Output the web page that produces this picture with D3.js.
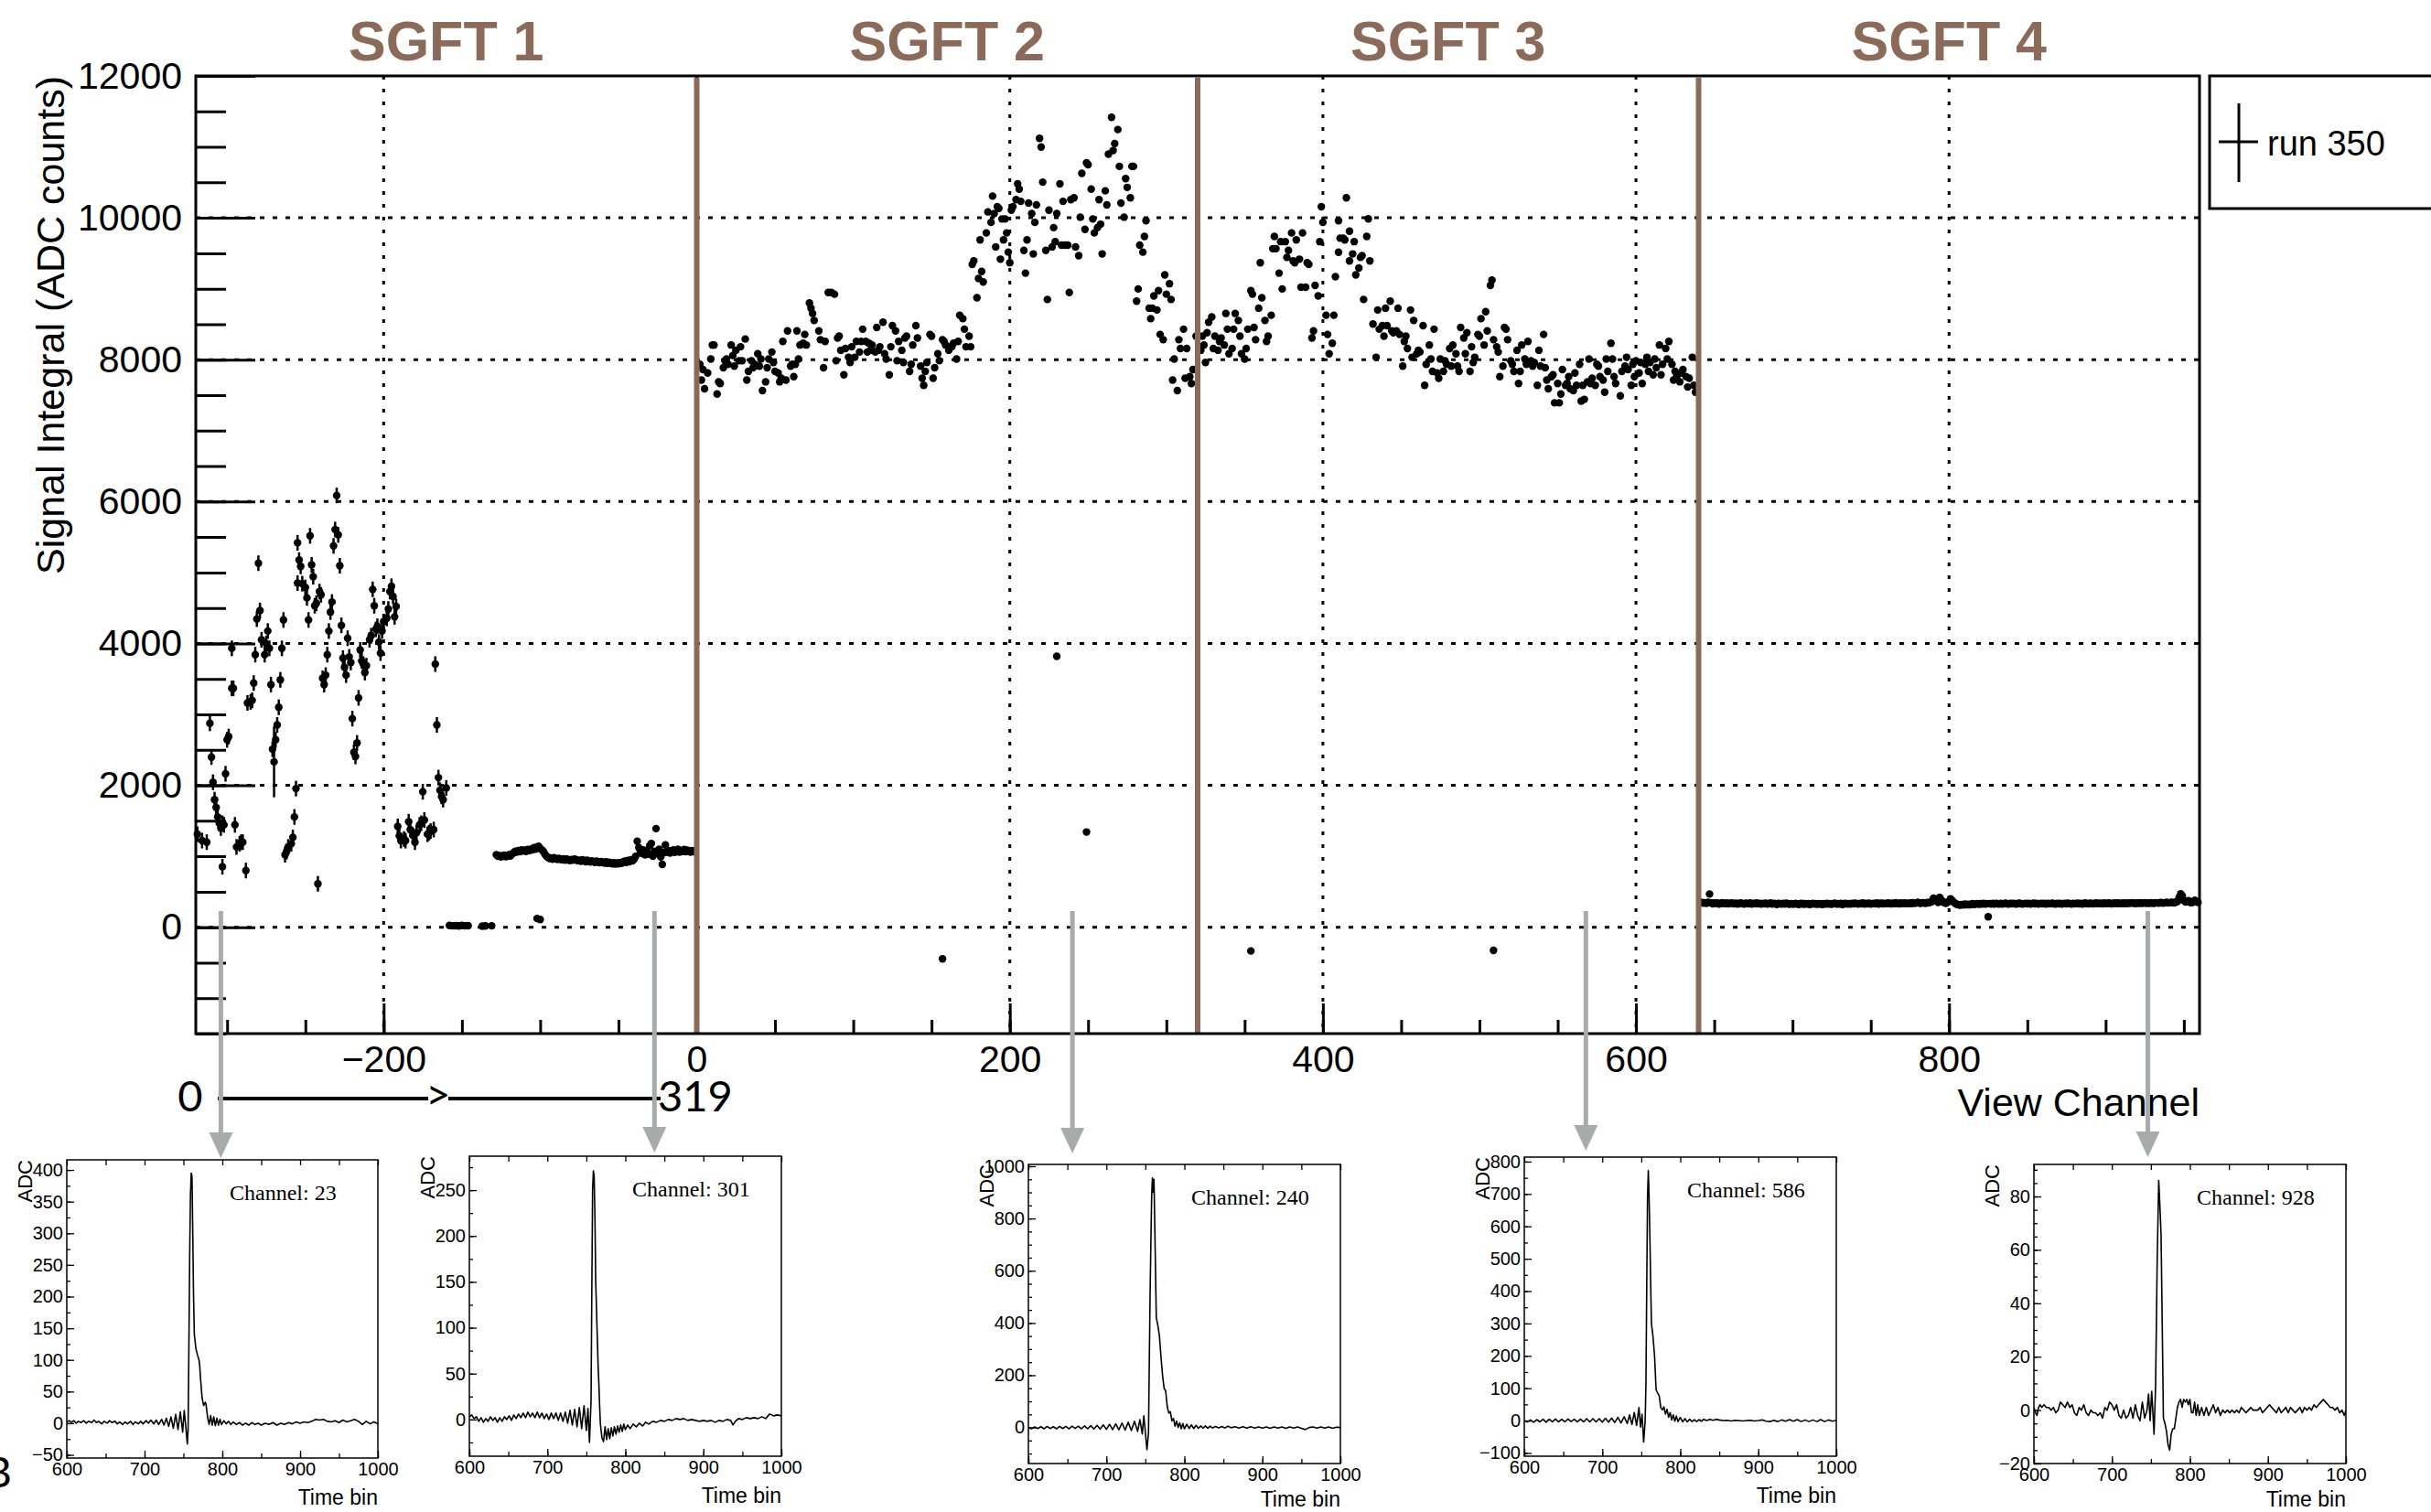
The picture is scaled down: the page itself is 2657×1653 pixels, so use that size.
<!DOCTYPE html>
<html>
<head>
<meta charset="utf-8">
<script src="https://cdn.jsdelivr.net/npm/d3@7"></script>
<style>
  body { margin: 0; background: #fff; }
  svg { display: block; }
</style>
</head>
<body>
<svg id="chart" width="2657" height="1653"></svg>
<script>
// ---------------- data ----------------
const moduleLabels = ["SGFT 1", "SGFT 2", "SGFT 3", "SGFT 4"];
const moduleBounds = [-320, 0, 320, 640, 960];
const xMajorTicks = [-200, 0, 200, 400, 600, 800];
const yMajorTicks = [0, 2000, 4000, 6000, 8000, 10000, 12000];
const legendLabel = "run 350";

// SGFT 1: scattered channels [view channel, integral, error]
const sgft1Scatter = [
  [-319,1310],[-316,1221],[-313,1199],[-311,2874],[-310,2398],[-309,2043],[-308,1798],[-307,1687],
  [-306,1554],[-305,1465],[-304,1398],[-303,1465],[-303,852],[-302,1443],[-301,2163],[-300,2642],
  [-299,2687],[-297,3931],[-297,3367],[-296,3367],[-295,1443],[-294,1132],[-292,1177],[-291,1199],
  [-290,1199],[-288,799],[-287,3162],[-285,3176],[-284,3198],[-283,3442],[-282,3842],[-281,4344],
  [-280,5131],[-279,4464],[-278,4051],[-276,3842],[-275,3998],[-274,4175],[-273,3931],[-272,3420],
  [-271,2509],[-270,2331,500],[-269,2642],[-268,2851],[-267,3100],[-266,3487],[-265,3931],[-264,4331],
  [-263,1021],[-262,1065],[-261,1132],[-259,1177],[-258,1265],[-257,1554],[-256,1954],[-255,5419],
  [-254,5175],[-253,5086],[-255,4851],[-252,4842],[-250,4789],[-249,4642],[-248,4331],[-247,5517],
  [-246,5108],[-245,4940],[-244,4531],[-243,4566],[-242,612],[-241,4731],[-240,4686],[-239,3509],
  [-238,3420],[-237,3553],[-236,3842],[-235,4175],[-234,4442],[-233,4584],[-232,5375],[-231,5606],
  [-230,6086],[-229,5530],[-228,5095],[-227,4255],[-226,3793],[-225,3664],[-224,3553],[-223,4073],
  [-222,3811],[-221,3731],[-220,2940],[-219,2465],[-218,2407],[-217,2598],[-216,3233],[-215,3909],
  [-214,3753],[-213,3709],[-212,3589],[-211,3687],[-209,4051],[-208,4109],[-207,4762],[-206,4531],
  [-205,4198],[-204,4242],[-203,4020],[-202,3864],[-201,4175],[-200,4309],[-198,4353],[-197,4486],
  [-196,4731],[-195,4806],[-194,4664],[-193,4375],[-192,4522],[-191,1421],[-190,1287],[-189,1221],
  [-187,1243],[-186,1221],[-184,1487],[-183,1376],[-181,1287],[-180,1199],[-179,1332],[-177,1443],
  [-176,1465],[-175,1909],[-174,1510],[-172,1310],[-171,1332],[-170,1354],[-168,1376],[-167,3709],
  [-166,2851],[-165,2109],[-164,1931],[-163,1843],[-162,1798],[-160,1963]
];
// SGFT 1: channels reading near zero and low outliers
const sgft1Low = [
  [-158,25],[-156,20],[-154,22],[-152,18],[-150,25],[-148,20],[-146,22],[-137,15],[-135,18],[-131,20],
  [-102,123],[-100,108]
];
// SGFT 1: contiguous channels -128 .. -1
const sgft1BandStart = -128;
const sgft1Band = [
  1020,1000,1010,990,1005,1015,995,1000,1020,1005,1030,
  1050,1070,1060,1080,1065,1090,1075,1085,1070,1095,1080,1100,1090,1120,1100,1130,1140,1110,1090,1070,
  1030,1000,985,970,975,960,980,965,955,970,960,950,965,945,960,950,940,955,945,960,
  950,935,945,930,950,940,925,945,930,920,935,925,915,930,920,910,925,915,905,920,
  900,915,905,895,910,890,905,895,910,
  900,920,930,915,940,925,950,935,960,1000,1210,
  1120,1060,1040,1090,1020,1080,1030,1150,1180,1000,1070,1390,1040,1100,990,885,1050,1160,1060,1080,
  1045,1070,1090,1055,1075,1100,1060,1080,1070,1095,1065,1085,1075,1060,1080,1070,1060
];

// SGFT 2: [view channel, integral]
const sgft2Points = [
  [2,7935],[3,7713],[4,7861],[5,7590],[7,7812],[9,8010],[10,8207],[11,8207],[13,7516],[14,7688],[15,7664],
  [17,7886],[18,7985],[19,8010],[20,7935],[22,8207],[23,8059],[24,7910],[25,8133],[27,7985],[28,8182],
  [29,7985],[31,8291],[32,7713],[33,7836],[35,7985],[36,7886],[37,7935],[39,8084],[40,7910],[41,8010],
  [42,7565],[44,7688],[45,7886],[46,8010],[48,8108],[49,7960],[50,7836],[52,7812],[53,7688],[54,7738],
  [55,8257],[57,7713],[58,8405],[60,7910],[61,7935],[62,7762],[63,7935],[64,8405],[65,8010],[66,8207],
  [68,8232],[69,8356],[70,8207],[72,8800],[73,8726],[74,8652],[75,8553],[78,8405],[79,8282],[81,7886],
  [82,8257],[84,8948],[86,8948],[88,8923],[89,7985],[90,8306],[91,8331],[92,8133],[94,7787],[95,8158],
  [97,8034],[98,7960],[99,8182],[101,8034],[102,8257],[104,8108],[105,8257],[106,8430],[108,8257],
  [109,8108],[110,8232],[111,8133],[112,8207],[114,8108],[115,8454],[116,8133],[117,8182],[119,8528],
  [120,8084],[121,8010],[123,7787],[124,8182],[125,8479],[127,8405],[128,7985],[129,8257],[131,8133],
  [132,7960],[133,8306],[134,8331],[136,7836],[137,7935],[138,8207],[140,8479],[141,8306],[143,7910],
  [144,7738],[145,7639],[146,7836],[147,7960],[149,8356],[150,8331],[151,7738],[152,7886],[154,8084],
  [155,7985],[157,8282],[158,8257],[159,8207],[161,8133],[162,8182],[163,8182],[164,8232],[166,8010],
  [167,8257],[168,8627],[170,8578],[171,8430],[172,8182],[174,8331],[175,8182],
  [176,9343],[177,9392],[179,8874],[180,9145],[181,9688],[182,9244],[183,9096],[185,9787],[186,10083],
  [188,9935],[189,10306],[190,10059],[191,9590],[192,10158],[193,10133],[194,9417],[195,9984],[196,9688],
  [197,9984],[198,9787],[199,9516],[200,9367],[201,10108],[202,10158],[204,10256],[205,10479],[206,10404],
  [207,10232],[209,9540],[210,9220],[211,9688],[212,10207],[214,10059],[215,9491],[216,9935],[217,10182],
  [219,11120],[220,10997],[221,10503],[223,9540],[224,8849],[225,10108],[227,9590],[228,9861],[229,9664],
  [230,10059],[232,10479],[233,9614],[234,10232],[235,9614],[237,9614],[238,8948],[239,10256],[241,10281],
  [242,9590],[244,9466],[245,10009],[246,10627],[248,9837],[249,10775],[250,10750],[252,10404],[253,9984],
  [254,9787],[256,9861],[257,10256],[258,9910],[259,9491],[261,10380],[262,10182],[263,10898],[265,11417],
  [266,10948],[267,11046],[269,11244],[270,10725],[271,10207],[273,10009],[274,10553],[275,10429],
  [277,10281],[278,10725],[279,10725],[281,8824],[282,8997],[283,9614],[285,9516],[286,9738],[287,9960],
  [289,8726],[290,8578],[291,8726],[292,8899],[294,8701],[295,8973],[296,8356],[298,8282],[299,9195],
  [300,8923],[302,9071],[303,8849],[304,7713],[305,8010],[307,7565],[308,8282],[309,8158],[311,8430],
  [312,7738],[313,8158],[315,7762],[316,7664],[317,7861],[319,8331],
  [157,-445],[230,3819],[249,1342]
];

// SGFT 3: [view channel, integral]
const sgft3Points = [
  [322,8133],[323,8331],[324,8207],[325,7960],[326,8380],[327,8528],[329,8602],[330,8158],[331,8331],
  [333,8133],[334,8257],[335,8306],[337,8207],[338,8652],[339,8430],[340,8084],[342,8158],[343,8430],
  [344,8652],[346,8553],[347,8331],[348,8084],[350,8010],[351,8158],[352,8430],[354,8973],[355,8923],
  [356,8454],[357,8282],[359,8726],[360,9367],[361,8874],[363,8553],[364,8257],[365,8331],[367,8627],
  [368,9565],[369,9738],[370,9565],[372,9220],[373,9664],[374,8997],[376,9664],[377,9442],[378,9540],
  [380,9787],[381,9392],[382,9367],[383,9688],[385,9417],[386,9022],[387,9787],[389,9022],[390,9367],
  [391,9343],[393,8306],[394,8405],[395,9047],[397,8899],[398,9664],[399,10157],[400,9935],[402,8627],
  [403,8356],[404,8084],[406,8232],[407,8627],[408,9170],[410,9960],[410,9515],[411,9713],[413,9713],
  [414,9688],[415,10281],[417,9812],[417,9392],[419,9491],[420,9664],[421,9195],[423,9293],[424,9442],
  [425,9466],[426,8849],[428,9738],[429,9985],[430,9392],[432,8503],[434,8034],[435,8701],[436,8430],
  [438,8479],[439,8331],[440,8726],[441,8479],[443,8824],[444,8405],[445,8380],[447,8405],[448,8726],
  [449,8356],[451,7910],[452,8257],[453,8331],[454,8158],[456,8701],[457,8034],[458,8553],[460,8084],
  [461,8133],[462,8108],[464,8479],[465,7639],[466,7935],[468,8207],[469,8010],[470,7836],[471,8430],
  [473,7812],[474,7738],[475,8010],[477,7836],[478,7985],[479,7935],[481,8158],[482,7910],[483,8207],
  [485,8084],[486,7910],[487,7836],[488,8454],[490,8306],[491,8084],[492,8380],[494,7836],[495,8182],
  [496,7960],[497,8034],[499,8356],[500,8331],[501,8578],[503,8207],[504,8677],[505,8405],[507,9047],
  [508,9121],[509,8282],[511,8182],[512,8108],[513,7762],[515,7910],[516,8454],[517,8430],[518,8282],
  [520,7985],[521,7935],[522,7836],[524,8133],[525,7664],[526,7836],[527,8207],[529,8010],[530,7935],
  [531,8257],[533,7985],[534,7910],[535,7960],[537,7639],[538,8133],[539,7910],[541,8356],[542,7886],
  [543,7713],[544,7590],[546,7762],[547,7787],[548,7392],[550,7664],[551,7392],[552,7516],[553,7861],
  [555,7639],[556,7664],[557,7762],[558,7590],[560,7565],[561,7812],[562,7639],[564,7935],[565,7417],
  [566,7639],[567,7441],[569,7688],[570,8010],[571,7664],[572,7738],[574,7639],[575,7935],[576,7910],
  [577,7762],[579,7713],[580,7541],[581,8010],[582,7836],[584,8232],[585,8010],[586,7762],[587,7664],
  [590,7491],[591,7836],[593,7910],[594,8034],[595,7861],[597,7639],[598,7935],[599,7762],[600,7985],
  [602,7812],[603,7960],[604,7664],[606,7935],[607,8034],[608,7836],[609,7960],[611,7787],[612,8010],
  [613,7886],[615,8207],[616,7787],[617,7935],[619,8158],[620,8010],[621,8257],[623,7935],[624,7713],
  [625,7836],[626,7762],[628,7688],[629,7812],[630,7861],[632,7762],[633,7615],[634,7738],[636,8034],
  [637,7639],[638,7541],
  [354,-335],[509,-326]
];

// SGFT 4: contiguous channels 641 .. 959
const sgft4Start = 641;
const sgft4Values = [
  352,348,340,345,338,350,468,345,330,342,336,340,328,335,345,338,332,340,330,336,
  342,335,330,338,328,334,340,332,326,338,335,330,342,328,336,332,340,330,334,328,
  336,330,338,326,332,340,328,334,330,322,336,330,326,334,328,338,330,324,332,328,
  326,334,328,322,330,336,324,330,326,332,320,328,334,326,330,324,332,328,322,330,
  328,334,326,330,324,332,338,326,330,328,334,322,330,336,328,332,326,334,330,338,
  332,326,336,330,340,328,334,330,338,326,332,336,330,342,328,334,338,330,336,332,
  340,334,330,338,332,344,336,330,340,334,338,342,332,336,340,334,346,338,342,350,
  340,338,345,342,336,348,344,352,360,410,395,372,350,420,385,360,345,338,352,366,
  400,378,352,335,322,318,312,320,315,326,318,322,316,324,330,320,326,332,324,330,
  326,334,328,330,147,332,326,334,328,336,330,326,334,328,332,338,330,326,334,330,
  336,330,328,334,338,330,326,332,336,330,334,328,332,338,330,334,326,332,336,330,
  334,328,336,330,332,338,330,326,334,330,336,328,332,334,330,338,332,328,336,330,
  332,338,330,334,328,336,340,332,330,338,334,330,336,342,332,338,334,330,340,336,
  334,340,336,330,338,342,334,340,336,332,340,338,334,342,336,340,346,338,334,342,
  338,344,336,340,346,338,342,336,344,340,338,346,342,340,348,344,340,346,350,342,
  346,352,348,344,356,362,420,470,440,380,355,360,372,350,345,358,380,365,350
];

// waveforms shown for single channels: [time bin, ADC]
const wave23 = [
  [600,2],[603,4],[606,1],[609,4],[612,0],[615,3],[618,1],[622,4],[625,0],[628,3],[632,1],[635,5],[638,1],
  [641,3],[645,-1],[648,3],[652,0],[655,4],[658,1],[662,3],[665,-1],[668,2],[672,-2],[675,2],[678,-1],
  [682,3],[685,-2],[688,2],[692,-1],[695,3],[698,-1],[702,4],[705,0],[708,5],[712,-1],[715,5],[718,-2],
  [722,6],[725,-3],[728,8],[731,-5],[734,10],[737,-8],[740,14],[743,-10],[746,18],[749,-14],[751,20],
  [753,-5],[755,-33],[756,-10],[757,120],[758,260],[759,360],[760,395],[761,390],[762,300],[763,200],
  [764,140],[766,118],[768,108],[770,100],[771,90],[772,70],[774,40],[776,28],[778,33],[779,30],[781,10],
  [783,-2],[785,12],[787,-3],[789,10],[791,-4],[793,8],[795,-3],[797,6],[799,-2],[802,4],[805,-1],[808,3],
  [811,-2],[814,2],[818,-2],[822,1],[826,-3],[830,0],[834,-3],[838,1],[842,-2],[846,0],[850,-3],[855,0],
  [860,-2],[865,1],[870,-3],[875,0],[880,-2],[885,1],[890,-1],[895,2],[900,0],[905,2],[910,1],[915,3],
  [920,6],[925,5],[930,6],[935,3],[940,2],[945,4],[950,1],[955,5],[960,2],[965,4],[970,6],[975,3],
  [980,-2],[985,3],[990,-1],[995,2],[1000,-1]
];
const wave301 = [
  [600,3],[603,5],[606,1],[609,3],[612,-2],[615,2],[618,-3],[621,1],[624,-2],[627,3],[630,-1],[633,2],
  [636,-3],[639,2],[642,-2],[645,3],[648,0],[651,4],[654,-1],[657,5],[660,1],[663,6],[666,2],[669,7],
  [672,2],[675,8],[678,3],[681,7],[684,2],[687,8],[690,2],[693,7],[696,1],[699,6],[702,0],[705,7],[708,1],
  [711,7],[714,-1],[717,7],[720,-2],[723,8],[726,-4],[729,10],[732,-6],[735,11],[738,-8],[741,13],
  [744,-10],[747,15],[750,-12],[752,12],[754,-25],[756,20],[757,140],[758,250],[759,271],[760,265],
  [761,220],[762,150],[764,90],[765,60],[766,40],[767,15],[768,-5],[770,-20],[772,-24],[774,-8],[776,-22],
  [778,-10],[780,-21],[782,-9],[784,-18],[786,-8],[788,-16],[790,-7],[792,-14],[794,-6],[796,-13],
  [798,-5],[800,-11],[803,-6],[806,-10],[810,-5],[814,-8],[818,-4],[822,-7],[826,-3],[830,-5],[835,-2],
  [840,-3],[845,-1],[850,-2],[855,0],[860,-1],[865,1],[870,0],[875,1],[880,-1],[885,0],[890,-1],
  [895,-2],[900,-1],[905,-2],[910,-1],[915,-3],[920,-1],[925,-2],[930,0],[935,-1],[938,-6],[941,-2],
  [945,1],[950,0],[955,2],[960,1],[965,2],[970,1],[975,3],[980,1],[985,6],[990,4],[995,5],[1000,4]
];
const wave240 = [
  [600,0],[604,-5],[608,2],[612,-4],[616,3],[620,-5],[624,4],[628,-4],[632,3],[636,-5],[640,4],[644,-4],
  [648,4],[652,-5],[656,5],[660,-4],[664,5],[668,-5],[672,6],[676,-5],[680,7],[684,-6],[688,8],[692,-6],
  [696,10],[700,-7],[704,12],[708,-8],[712,14],[716,-9],[720,17],[724,-10],[728,20],[732,-12],[736,24],
  [740,-15],[743,30],[746,-25],[748,45],[750,-20],[752,-85],[754,-20],[755,250],[756,500],[757,700],
  [758,880],[759,955],[760,900],[761,950],[762,780],[763,600],[764,420],[766,390],[768,350],[770,270],
  [772,200],[774,150],[776,140],[778,80],[780,55],[782,60],[784,25],[786,35],[788,5],[790,25],[792,0],
  [794,18],[796,-5],[798,15],[800,-5],[803,12],[806,-4],[809,10],[812,-4],[815,8],[818,-3],[821,6],
  [824,-3],[827,6],[830,-3],[833,5],[836,-2],[840,4],[844,-2],[848,4],[852,-2],[856,5],[860,-1],[865,3],
  [870,-2],[875,3],[880,-2],[885,3],[890,-2],[895,2],[900,-2],[905,2],[910,-3],[915,2],[920,-2],[925,2],
  [930,-3],[935,2],[940,-2],[945,2],[950,-3],[955,-8],[960,0],[965,2],[970,-2],[975,2],[980,-2],[985,2],
  [990,-3],[995,1],[1000,0]
];
const wave586 = [
  [600,0],[604,-4],[608,2],[612,-5],[616,3],[620,-4],[624,4],[628,-5],[632,4],[636,-4],[640,5],[644,-4],
  [648,4],[652,-4],[656,5],[660,-3],[664,4],[668,-4],[672,5],[676,-4],[680,6],[684,-4],[688,6],[692,-4],
  [696,6],[700,-5],[704,7],[708,-5],[712,8],[716,-6],[720,10],[724,-7],[728,12],[732,-9],[735,18],
  [738,-12],[741,25],[744,-15],[747,40],[749,-20],[751,20],[753,-66],[755,0],[756,120],[757,420],
  [758,690],[759,772],[760,690],[761,570],[762,430],[763,300],[765,260],[767,200],[769,95],[771,85],
  [773,76],[775,40],[777,33],[779,42],[781,20],[783,35],[785,10],[787,25],[789,2],[791,18],[793,-2],
  [795,14],[797,-3],[800,10],[803,-4],[806,6],[809,-4],[812,4],[815,-3],[818,3],[821,-3],[824,3],[827,-2],
  [830,4],[834,0],[838,4],[842,1],[846,4],[850,2],[855,0],[860,1],[865,-1],[870,1],[875,0],[880,-1],
  [885,0],[890,1],[895,-1],[900,0],[905,2],[910,-2],[915,-3],[920,1],[925,-3],[930,2],[935,-2],[940,3],
  [945,-2],[950,3],[955,-3],[960,2],[965,-3],[970,2],[975,-3],[980,3],[985,-3],[990,2],[995,-2],[1000,1]
];
const wave928 = [
  [600,1],[602,-1],[604,-2],[606,1],[608,2],[610,1],[613,2],[616,1],[619,1],[622,0],[625,1],[628,-1],
  [631,0],[634,3],[637,2],[640,1],[643,3],[646,1],[649,2],[652,-1],[655,-2],[658,1],[661,0],[664,2],
  [667,-1],[670,-2],[673,0],[676,-1],[679,-1],[682,-2],[685,-1],[688,-3],[691,1],[694,0],[697,3],[700,2],
  [703,0],[706,2],[709,-2],[712,-3],[715,0],[718,-3],[721,-2],[724,1],[727,-3],[730,2],[733,-2],[736,-4],
  [739,3],[742,-3],[745,0],[747,6],[749,-4],[751,7],[752,2],[754,-9],[756,9],[758,55],[760,86],[761,80],
  [763,66],[765,21],[766,-3],[768,-5],[770,-8],[772,-13],[774,-15],[776,-9],[778,-7],[780,-7],[782,-3],
  [784,1],[786,3],[788,4],[790,1],[792,4],[794,3],[796,4],[798,2],[800,4],[802,-1],[804,-1],[806,3],
  [808,-2],[810,2],[812,-2],[815,1],[818,-2],[821,1],[824,-2],[827,0],[830,2],[833,-1],[836,1],[839,-2],
  [842,0],[845,-1],[848,0],[851,-1],[854,0],[857,-1],[860,0],[863,-1],[866,1],[869,0],[872,-1],[875,0],
  [878,1],[881,0],[884,0],[887,0],[890,1],[893,-1],[896,0],[899,1],[902,2],[905,1],[908,0],[911,-1],
  [914,1],[917,-1],[920,0],[923,1],[926,-1],[929,1],[932,0],[935,-1],[938,0],[941,1],[944,-1],[947,1],
  [950,0],[953,1],[956,0],[959,2],[962,1],[965,2],[968,3],[971,4],[974,3],[977,2],[980,1],[983,1],
  [986,0],[989,1],[992,-1],[995,0],[998,-2],[1000,0]
];

// channels picked out with arrows (view channel)
const arrowChannels = [-304, -27, 240, 568, 927];

// ---------------- layout ----------------
const SANS = "'Liberation Sans', Arial, Helvetica, sans-serif";
const SERIF = "'Liberation Serif', 'Times New Roman', serif";
const BROWN = "#8b6a5a";
const GREY = "#a9abaa";
const frame = { left: 214, right: 2404, top: 83, bottom: 1130 };

const svg = d3.select("#chart");
svg.append("rect").attr("width", 2657).attr("height", 1653).attr("fill", "#fff");

const x = d3.scaleLinear().domain([moduleBounds[0], moduleBounds[4]]).range([frame.left, frame.right]);
const y = d3.scaleLinear().domain([-1500, 12000]).range([frame.bottom, frame.top]);

// dotted grid at the major ticks
const grid = svg.append("g");
grid.selectAll("line.gy").data(yMajorTicks.filter(v => v < 12000)).join("line")
  .attr("x1", frame.left).attr("x2", frame.right)
  .attr("y1", d => y(d)).attr("y2", d => y(d))
  .attr("stroke", "#000").attr("stroke-width", 3).attr("stroke-dasharray", "5,9");
grid.selectAll("line.gx").data(xMajorTicks).join("line")
  .attr("x1", d => x(d)).attr("x2", d => x(d))
  .attr("y1", frame.top).attr("y2", frame.bottom)
  .attr("stroke", "#000").attr("stroke-width", 3).attr("stroke-dasharray", "4,10");

// axes
function styleAxis(g, fontSize) {
  g.select(".domain").remove();
  g.selectAll(".tick line").attr("stroke", "#000").attr("stroke-width", 3);
  g.selectAll(".tick text").attr("fill", "#000").style("font-family", SANS).style("font-size", fontSize + "px");
}
const yMinor = d3.range(-1500, 12001, 500);
const xMinor = d3.range(-300, 951, 50);
svg.append("g").attr("transform", `translate(${frame.left},0)`)
  .call(d3.axisLeft(y).tickValues(yMinor).tickSizeInner(-33).tickSizeOuter(0).tickFormat(""))
  .call(g => styleAxis(g, 41));
svg.append("g").attr("transform", `translate(${frame.left},0)`)
  .call(d3.axisLeft(y).tickValues(yMajorTicks).tickSizeInner(-65).tickSizeOuter(0).tickPadding(15).tickFormat(d3.format("d")))
  .call(g => styleAxis(g, 41));
svg.append("g").attr("transform", `translate(0,${frame.bottom})`)
  .call(d3.axisBottom(x).tickValues(xMinor).tickSizeInner(-15).tickSizeOuter(0).tickFormat(""))
  .call(g => styleAxis(g, 41));
svg.append("g").attr("transform", `translate(0,${frame.bottom})`)
  .call(d3.axisBottom(x).tickValues(xMajorTicks).tickSizeInner(-33).tickSizeOuter(0).tickPadding(13).tickFormat(d3.format("d")))
  .call(g => styleAxis(g, 41));

// axis titles
svg.append("text")
  .attr("transform", `translate(70,${frame.top}) rotate(-90)`)
  .attr("text-anchor", "end")
  .style("font-family", SANS).style("font-size", "43px")
  .text("Signal Integral (ADC counts)");
svg.append("text")
  .attr("x", frame.right).attr("y", 1220)
  .attr("text-anchor", "end")
  .style("font-family", SANS).style("font-size", "43px")
  .text("View Channel");

// measurement points
const points = [];
sgft1Scatter.forEach(([c, v, e]) => points.push({ c, v, e: e === undefined ? 110 : e }));
sgft1Low.forEach(([c, v]) => points.push({ c, v, e: 0 }));
sgft1Band.forEach((v, i) => points.push({ c: sgft1BandStart + i, v, e: 40 }));
sgft2Points.forEach(([c, v]) => points.push({ c, v, e: 0 }));
sgft3Points.forEach(([c, v]) => points.push({ c, v, e: 0 }));
sgft4Values.forEach((v, i) => points.push({ c: sgft4Start + i, v, e: 0 }));

const pts = svg.append("g");
pts.selectAll("line").data(points.filter(d => d.e > 0)).join("line")
  .attr("x1", d => x(d.c)).attr("x2", d => x(d.c))
  .attr("y1", d => y(d.v - d.e)).attr("y2", d => y(d.v + d.e))
  .attr("stroke", "#000").attr("stroke-width", 2.5);
pts.selectAll("circle").data(points).join("circle")
  .attr("cx", d => x(d.c)).attr("cy", d => y(d.v)).attr("r", 4.2)
  .attr("fill", "#000");

// module separators and names
svg.append("g").selectAll("line").data(moduleBounds.slice(1, 4)).join("line")
  .attr("x1", d => x(d)).attr("x2", d => x(d))
  .attr("y1", frame.top + 2).attr("y2", frame.bottom - 1)
  .attr("stroke", BROWN).attr("stroke-width", 6);
svg.append("g").selectAll("text").data(moduleLabels).join("text")
  .attr("x", (d, i) => (x(moduleBounds[i]) + x(moduleBounds[i + 1])) / 2)
  .attr("y", 66)
  .attr("text-anchor", "middle")
  .attr("fill", BROWN)
  .style("font-family", SANS).style("font-weight", "bold").style("font-size", "61px")
  .text(d => d);

// frame
svg.append("rect")
  .attr("x", frame.left).attr("y", frame.top)
  .attr("width", frame.right - frame.left).attr("height", frame.bottom - frame.top)
  .attr("fill", "none").attr("stroke", "#000").attr("stroke-width", 3);

// legend
const leg = svg.append("g");
leg.append("rect").attr("x", 2415).attr("y", 83).attr("width", 300).attr("height", 145)
  .attr("fill", "#fff").attr("stroke", "#000").attr("stroke-width", 3);
leg.append("line").attr("x1", 2447).attr("x2", 2447).attr("y1", 113).attr("y2", 199)
  .attr("stroke", "#000").attr("stroke-width", 3);
leg.append("line").attr("x1", 2425).attr("x2", 2468).attr("y1", 155).attr("y2", 155)
  .attr("stroke", "#000").attr("stroke-width", 3);
leg.append("text").attr("x", 2478).attr("y", 170)
  .style("font-family", SANS).style("font-size", "38px").text(legendLabel);

// channel numbering annotation under SGFT 1
const HAND = "Lato, 'Open Sans', sans-serif";
const ann = svg.append("g");
ann.append("text").attr("x", 208).attr("y", 1215).attr("text-anchor", "middle")
  .style("font-family", HAND).style("font-size", "47px").text("0");
ann.append("line").attr("x1", 238).attr("x2", 468).attr("y1", 1201).attr("y2", 1201)
  .attr("stroke", "#000").attr("stroke-width", 4);
ann.append("text").attr("x", 479).attr("y", 1213).attr("text-anchor", "middle")
  .style("font-family", HAND).style("font-size", "47px").text(">");
ann.append("line").attr("x1", 490).attr("x2", 722).attr("y1", 1201).attr("y2", 1201)
  .attr("stroke", "#000").attr("stroke-width", 4);
ann.append("text").attr("x", 719).attr("y", 1215).attr("text-anchor", "start")
  .style("font-family", HAND).style("font-size", "47px").text("319");
ann.append("text").attr("x", 13).attr("y", 1626).attr("text-anchor", "end")
  .style("font-family", HAND).style("font-size", "47px").text("B");

// waveform insets
const insets = [
  { ch: 23,  data: wave23,  box: [73, 1268, 340, 326],   yDom: [-55, 416],  yStep: 50,  yMinor: 25, yLab: [-50, 400] },
  { ch: 301, data: wave301, box: [513, 1264, 341, 328],  yDom: [-40, 287],  yStep: 50,  yMinor: 25, yLab: [0, 250] },
  { ch: 240, data: wave240, box: [1124, 1273, 341, 327], yDom: [-138, 1007], yStep: 200, yMinor: 50, yLab: [0, 1000] },
  { ch: 586, data: wave586, box: [1666, 1265, 341, 327], yDom: [-110, 814], yStep: 100, yMinor: 50, yLab: [-100, 800] },
  { ch: 928, data: wave928, box: [2223, 1273, 341, 327], yDom: [-20, 92],   yStep: 20,  yMinor: 5,  yLab: [-20, 80] }
];
const timeTicks = [600, 700, 800, 900, 1000];
const timeMinor = d3.range(600, 1001, 50);

function inset(cfg, idx) {
  const [bx, by, bw, bh] = cfg.box;
  const g = svg.append("g");
  const xs = d3.scaleLinear().domain([600, 1000]).range([bx, bx + bw]);
  const ys = d3.scaleLinear().domain(cfg.yDom).range([by + bh, by]);
  const clipId = "clip" + idx;
  svg.append("clipPath").attr("id", clipId).append("rect")
    .attr("x", bx).attr("y", by).attr("width", bw).attr("height", bh);

  const thin = (sel, fs) => {
    sel.select(".domain").remove();
    sel.selectAll(".tick line").attr("stroke", "#000").attr("stroke-width", 1.3);
    sel.selectAll(".tick text").attr("fill", "#000").style("font-family", SANS).style("font-size", fs + "px");
  };
  const yMaj = d3.range(cfg.yLab[0], cfg.yLab[1] + 1, cfg.yStep);
  const yMin = d3.range(Math.ceil(cfg.yDom[0] / cfg.yMinor) * cfg.yMinor, cfg.yDom[1], cfg.yMinor);
  g.append("g").attr("transform", `translate(${bx},0)`)
    .call(d3.axisLeft(ys).tickValues(yMin).tickSizeInner(-4).tickSizeOuter(0).tickFormat(""))
    .call(s => thin(s, 20));
  g.append("g").attr("transform", `translate(${bx},0)`)
    .call(d3.axisLeft(ys).tickValues(yMaj).tickSizeInner(-8).tickSizeOuter(0).tickPadding(4).tickFormat(d3.format("d")))
    .call(s => thin(s, 20));
  g.append("g").attr("transform", `translate(0,${by + bh})`)
    .call(d3.axisBottom(xs).tickValues(timeMinor).tickSizeInner(-5).tickSizeOuter(0).tickFormat(""))
    .call(s => thin(s, 20));
  g.append("g").attr("transform", `translate(0,${by + bh})`)
    .call(d3.axisBottom(xs).tickValues(timeTicks).tickSizeInner(-8).tickSizeOuter(0).tickPadding(5).tickFormat(d3.format("d")))
    .call(s => thin(s, 20));
  g.append("g").attr("transform", `translate(0,${by})`)
    .call(d3.axisTop(xs).tickValues(timeMinor).tickSizeInner(-6).tickSizeOuter(0).tickFormat(""))
    .call(s => thin(s, 20));

  g.append("path").datum(cfg.data)
    .attr("clip-path", `url(#${clipId})`)
    .attr("d", d3.line().x(d => xs(d[0])).y(d => ys(d[1])))
    .attr("fill", "none").attr("stroke", "#000").attr("stroke-width", 1.6)
    .attr("stroke-linejoin", "round");

  g.append("rect").attr("x", bx).attr("y", by).attr("width", bw).attr("height", bh)
    .attr("fill", "none").attr("stroke", "#000").attr("stroke-width", 1.5);

  g.append("text").attr("x", bx + 178).attr("y", by + 44)
    .style("font-family", SERIF).style("font-size", "24px")
    .text("Channel: " + cfg.ch);
  g.append("text").attr("transform", `translate(${bx - 38},${by}) rotate(-90)`)
    .attr("text-anchor", "end")
    .style("font-family", SANS).style("font-size", "22px").text("ADC");
  g.append("text").attr("x", bx + bw).attr("y", Math.min(by + bh + 51, 1647))
    .attr("text-anchor", "end")
    .style("font-family", SANS).style("font-size", "23px").text("Time bin");
}
insets.forEach(inset);

// grey arrows from the channel axis down to each waveform
const arrowTips = [1266, 1260, 1261, 1258, 1265];
const arr = svg.append("g");
arrowChannels.forEach((c, i) => {
  const ax = x(c), tip = arrowTips[i];
  arr.append("line").attr("x1", ax).attr("x2", ax).attr("y1", 996).attr("y2", tip - 24)
    .attr("stroke", GREY).attr("stroke-width", 5);
  arr.append("path")
    .attr("d", `M${ax - 13},${tip - 28}L${ax + 13},${tip - 28}L${ax},${tip}Z`)
    .attr("fill", GREY);
});
</script>
</body>
</html>
